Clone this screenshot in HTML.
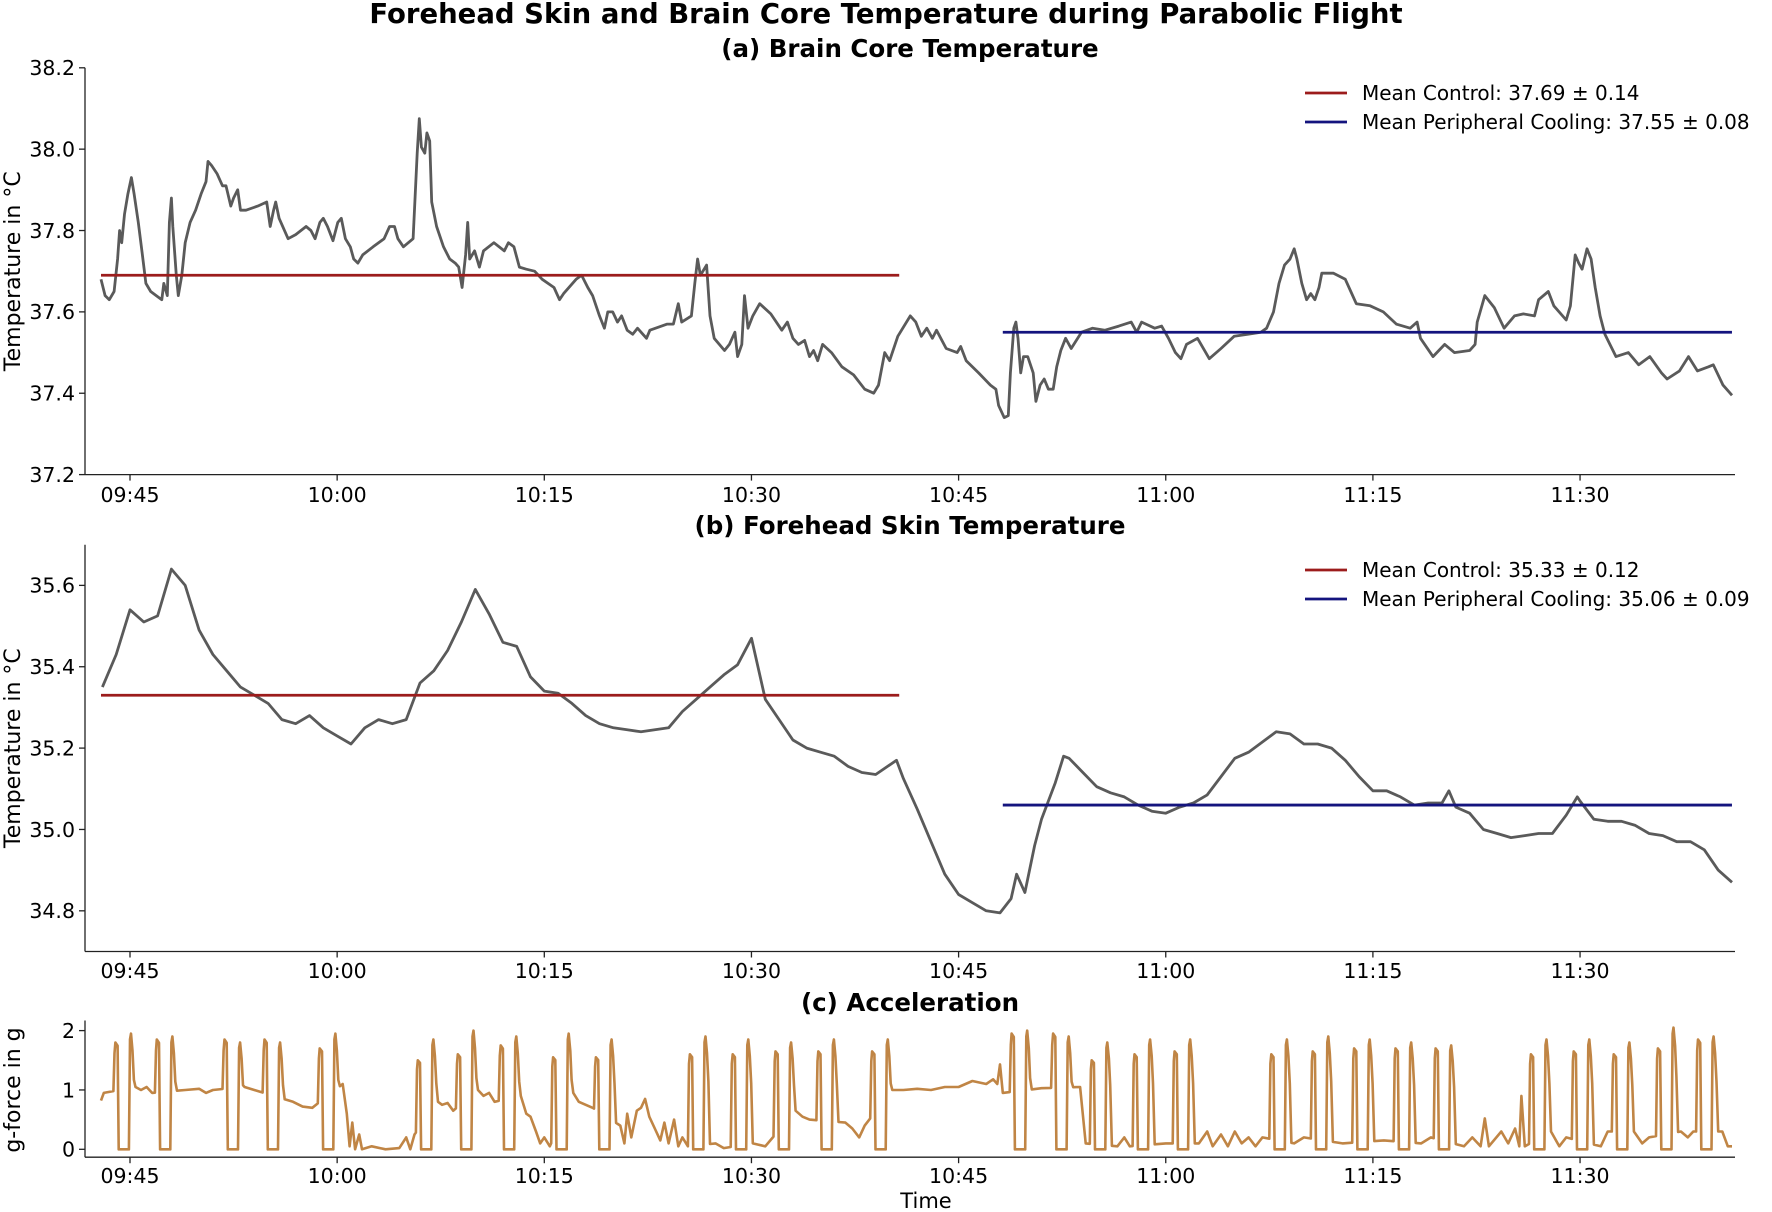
<!DOCTYPE html>
<html><head><meta charset="utf-8">
<style>
html,body{margin:0;padding:0;background:#fff;}
svg{display:block;font-family:"DejaVu Sans","Liberation Sans",sans-serif;}
</style></head>
<body>
<svg id="fig" width="1772" height="1212" viewBox="0 0 1772 1212" xmlns="http://www.w3.org/2000/svg">
<text x="886" y="23" text-anchor="middle" font-size="27.5" font-weight="bold">Forehead Skin and Brain Core Temperature during Parabolic Flight</text>
<text x="910" y="57" text-anchor="middle" font-size="24.5" font-weight="bold">(a) Brain Core Temperature</text>
<text x="910" y="534" text-anchor="middle" font-size="24.5" font-weight="bold">(b) Forehead Skin Temperature</text>
<text x="910" y="1011" text-anchor="middle" font-size="24.5" font-weight="bold">(c) Acceleration</text>
<g id="pa"></g>
<g id="pb"></g>
<g id="pc"></g>
<text x="926" y="1208" text-anchor="middle" font-size="21">Time</text>
</svg>
<script>
// ---- shared x ticks (minutes after 09:45) ----
const xTickMin = [0, 15, 30, 45, 60, 75, 90, 105];
const xTickLabels = ["09:45","10:00","10:15","10:30","10:45","11:00","11:15","11:30"];

// ---- (a) brain core temperature ----
const brainT = [-2.1,-1.8,-1.5,-1.15,-0.9,-0.75,-0.6,-0.4,-0.15,0.1,0.3,0.6,0.9,1.15,1.5,1.9,2.3,2.45,2.7,2.85,3.0,3.1,3.35,3.5,3.75,4.0,4.35,4.75,5.15,5.5,5.65,5.9,6.3,6.7,6.95,7.3,7.5,7.8,8.0,8.4,9.25,9.9,10.15,10.4,10.55,10.8,11.45,12.0,12.75,13.1,13.4,13.75,14.0,14.3,14.7,15.05,15.3,15.6,15.95,16.2,16.5,16.85,17.6,18.4,18.8,19.15,19.4,19.8,20.5,20.8,20.95,21.1,21.35,21.5,21.7,21.85,22.2,22.7,23.15,23.55,23.8,24.05,24.3,24.45,24.6,24.95,25.3,25.6,26.35,27.1,27.4,27.8,28.2,28.7,29.3,29.85,30.7,31.1,31.4,32.3,32.7,33.15,33.5,34.0,34.35,34.6,34.95,35.3,35.6,36.0,36.4,36.75,37.4,37.65,38.9,39.35,39.7,39.95,40.65,40.9,41.1,41.3,41.75,42.0,42.3,43.05,43.4,43.8,44.0,44.3,44.5,44.75,45.1,45.6,46.4,47.2,47.6,48.0,48.4,48.85,49.2,49.5,49.8,50.15,50.8,51.55,52.4,53.2,53.85,54.2,54.65,55.0,55.6,56.5,56.9,57.3,57.7,58.1,58.4,59.1,59.9,60.15,60.55,61.45,62.3,62.7,62.9,63.3,63.6,63.75,64.0,64.15,64.3,64.5,64.7,65.0,65.4,65.6,65.9,66.2,66.5,66.85,67.1,67.4,67.75,68.15,68.9,69.7,70.6,71.6,72.5,72.9,73.25,74.2,74.7,75.2,75.7,76.1,76.5,77.3,78.15,79.0,79.95,80.95,81.9,82.3,82.8,83.2,83.6,84.0,84.3,84.5,84.85,85.2,85.5,85.8,86.1,86.3,87.15,88.0,88.4,88.8,89.8,90.75,91.7,92.7,93.2,93.45,94.35,95.2,95.9,97.0,97.4,97.55,98.1,98.8,99.5,100.25,100.9,101.7,102.0,102.7,103.1,104.0,104.3,104.5,104.65,104.9,105.15,105.5,105.8,106.1,106.45,106.8,107.6,108.5,109.25,110.05,110.9,111.3,112.2,112.85,113.5,114.3,114.65,115.35,116.0];
const brainV = [37.68,37.64,37.63,37.65,37.73,37.80,37.77,37.84,37.89,37.93,37.89,37.82,37.74,37.67,37.65,37.64,37.63,37.67,37.64,37.82,37.88,37.81,37.69,37.64,37.69,37.77,37.82,37.85,37.89,37.92,37.97,37.96,37.94,37.91,37.91,37.86,37.88,37.90,37.85,37.85,37.86,37.87,37.81,37.85,37.87,37.83,37.78,37.79,37.81,37.80,37.78,37.82,37.83,37.81,37.775,37.82,37.83,37.78,37.76,37.73,37.72,37.74,37.76,37.78,37.81,37.81,37.78,37.76,37.78,37.99,38.075,38.005,37.99,38.04,38.02,37.87,37.81,37.76,37.73,37.72,37.71,37.66,37.74,37.82,37.73,37.75,37.71,37.75,37.77,37.75,37.77,37.76,37.71,37.705,37.70,37.68,37.66,37.63,37.645,37.68,37.69,37.66,37.64,37.59,37.56,37.60,37.60,37.575,37.59,37.555,37.545,37.56,37.535,37.555,37.57,37.57,37.62,37.575,37.59,37.67,37.73,37.69,37.715,37.59,37.535,37.505,37.52,37.55,37.49,37.52,37.64,37.56,37.59,37.62,37.595,37.555,37.575,37.535,37.52,37.53,37.49,37.505,37.48,37.52,37.50,37.465,37.445,37.41,37.40,37.42,37.50,37.48,37.54,37.59,37.575,37.54,37.56,37.535,37.555,37.51,37.50,37.515,37.48,37.45,37.42,37.41,37.37,37.34,37.345,37.45,37.56,37.575,37.535,37.45,37.49,37.49,37.45,37.38,37.42,37.435,37.41,37.41,37.465,37.505,37.535,37.51,37.55,37.56,37.555,37.565,37.575,37.55,37.575,37.56,37.565,37.535,37.50,37.485,37.52,37.535,37.485,37.51,37.54,37.545,37.55,37.56,37.60,37.67,37.715,37.73,37.755,37.73,37.67,37.63,37.645,37.63,37.66,37.695,37.695,37.68,37.65,37.62,37.615,37.60,37.57,37.56,37.575,37.535,37.49,37.52,37.50,37.505,37.52,37.575,37.64,37.61,37.56,37.59,37.595,37.59,37.63,37.65,37.615,37.58,37.615,37.685,37.74,37.72,37.705,37.755,37.73,37.66,37.59,37.545,37.49,37.50,37.47,37.49,37.45,37.435,37.455,37.49,37.455,37.465,37.47,37.42,37.395];
const brainTicks = [37.2,37.4,37.6,37.8,38.0,38.2];
const brainMeans = [37.69, 37.55];
const brainMeanLabels = ["Mean Control: 37.69 ± 0.14","Mean Peripheral Cooling: 37.55 ± 0.08"];

// ---- (b) forehead skin temperature ----
const skinT = [-2,-1,0,1,2,3,4,5,6,7,8,9,10,11,12,13,14,15,16,17,18,19,20,21,22,23,24,25,26,27,28,29,30,31,32,33,34,35,36,37,38,39,40,41,42,43,44,45,46,47,48,49,50,51,52,53,54,55.5,56,57,58,59,60,61,62,63,63.8,64.2,64.8,65.5,66,67,67.6,68,69,70,71,72,73,74,75,76,77,78,79,80,81,82,83,84,85,86,87,88,89,90,91,92,93,94,95,95.5,96,97,98,99,100,101,102,103,104,104.8,105,106,107,108,109,110,111,112,113,114,115,116];
const skinV = [35.35,35.43,35.54,35.51,35.525,35.64,35.60,35.49,35.43,35.39,35.35,35.33,35.31,35.27,35.26,35.28,35.25,35.23,35.21,35.25,35.27,35.26,35.27,35.36,35.39,35.44,35.51,35.59,35.53,35.46,35.45,35.375,35.34,35.335,35.31,35.28,35.26,35.25,35.245,35.24,35.245,35.25,35.29,35.32,35.35,35.38,35.405,35.47,35.32,35.27,35.22,35.20,35.19,35.18,35.155,35.14,35.135,35.17,35.125,35.05,34.97,34.89,34.84,34.82,34.80,34.795,34.83,34.89,34.845,34.96,35.025,35.115,35.18,35.175,35.14,35.105,35.09,35.08,35.06,35.045,35.04,35.055,35.065,35.085,35.13,35.175,35.19,35.215,35.24,35.235,35.21,35.21,35.20,35.17,35.13,35.095,35.095,35.08,35.06,35.065,35.065,35.095,35.055,35.04,35.0,34.99,34.98,34.985,34.99,34.99,35.035,35.08,35.07,35.025,35.02,35.02,35.01,34.99,34.985,34.97,34.97,34.95,34.90,34.87];
const skinTicks = [34.8,35.0,35.2,35.4,35.6];
const skinMeans = [35.33, 35.06];
const skinMeanLabels = ["Mean Control: 35.33 ± 0.12","Mean Peripheral Cooling: 35.06 ± 0.09"];

// mean line extents (minutes)
const controlSpan = [-2.1, 55.7];
const coolingSpan = [63.2, 116.0];

// ---- (c) acceleration ----
const paraT = [-0.4,2.6,7.5,10.4,14.4,21.5,24.4,27.5,31.3,34.4,41.2,44.3,47.4,50.5,54.4,64.5,67.5,70.3,73.4,76.3,83.3,86.3,89.3,92.3,95.2,102.1,105.2,108.1,111.3,114.2];
const paraPeakIn = [1.8,1.85,1.85,1.85,1.7,1.5,1.6,1.75,1.55,1.55,1.6,1.6,1.65,1.65,1.65,1.95,1.95,1.5,1.6,1.65,1.6,1.65,1.7,1.7,1.7,1.6,1.65,1.6,1.7,1.85];
const paraPeakOut = [1.95,1.9,1.8,1.8,1.95,1.85,2.0,1.9,1.95,1.85,1.9,1.85,1.8,1.85,1.85,2.0,1.9,1.8,1.85,1.85,1.85,1.9,1.85,1.8,1.75,1.85,1.85,1.8,2.05,1.9];
const baseT = [-2.1,-1.9,-1.2,-1.0,0.4,0.8,1.2,1.6,2.0,3.4,4,5,5.5,6,6.8,8.3,9,9.7,11.2,11.8,12.5,13.2,13.7,15.1,15.4,15.7,15.9,16.1,16.3,16.6,16.8,17.5,18.5,19.5,20,20.3,20.6,20.8,22.3,22.6,23,23.4,23.7,25.2,25.6,26,26.4,26.8,28.3,28.7,29,29.4,29.7,30,30.4,30.7,32.1,32.5,33,33.5,33.8,35.1,35.5,35.8,36,36.3,36.7,37,37.3,37.6,38,38.4,38.7,39,39.4,39.7,40,40.4,40.6,42,42.4,43,43.6,45.1,46,46.8,48.2,48.7,49.2,49.8,51.3,51.8,52.3,52.8,53.2,53.6,55.2,56,57,58,59,60,61,62,62.5,62.8,63.0,63.2,63.8,65.3,66,66.8,68.3,68.8,69.2,69.6,71.1,71.5,72,72.4,72.8,74.2,75,75.7,77.1,77.4,78,78.4,79,79.5,80,80.5,81,81.5,82,82.6,84,84.3,85,85.6,87.1,87.8,88.5,88.8,90,90.8,91.5,91.8,93,93.5,94.2,94.6,96,96.6,97.2,97.8,98.1,98.4,99.3,99.8,100.3,100.6,100.75,101.0,101.4,102.9,103.5,104,104.5,106,106.5,107,107.4,108.9,109.5,110,110.6,112,112.3,112.8,113.2,113.6,115,115.3,115.7,116];
const baseV = [0.82,0.95,0.97,0.95,1.05,1.0,1.05,0.95,1.02,1.05,1.0,1.02,0.95,1.0,1.0,1.05,1.0,1.0,0.85,0.8,0.72,0.7,0.68,1.2,1.1,0.6,0.05,0.45,0.0,0.25,0.0,0.05,0.0,0.02,0.2,0.0,0.25,0.0,0.8,0.75,0.78,0.65,0.45,1.0,0.9,0.95,0.8,0.78,0.9,0.6,0.55,0.3,0.1,0.2,0.05,0.45,0.95,0.8,0.75,0.7,0.45,0.9,0.4,0.1,0.6,0.2,0.65,0.7,0.85,0.55,0.35,0.15,0.45,0.1,0.5,0.05,0.2,0.05,0.3,0.5,0.1,0.02,0.05,0.1,0.05,0.05,0.65,0.55,0.5,0.45,0.6,0.45,0.35,0.2,0.4,0.1,1.0,1.0,1.02,1.0,1.05,1.05,1.15,1.1,1.18,1.1,1.43,0.95,1.05,1.05,1.03,1.0,1.1,1.05,0.1,0.02,0.25,0.05,0.2,0.05,0.08,0.15,0.1,0.1,0.45,0.1,0.3,0.05,0.25,0.05,0.3,0.1,0.2,0.05,0.2,0.05,0.35,0.1,0.2,0.05,0.2,0.1,0.45,0.05,0.2,0.15,0.05,0.1,0.3,0.1,0.2,0.05,0.1,0.05,0.2,0.05,0.52,0.05,0.3,0.1,0.35,0.05,0.9,0.05,0.35,0.3,0.05,0.2,0.05,0.1,0.05,0.3,0.05,0.3,0.1,0.2,0.1,1.5,0.3,0.2,0.3,0.05,1.0,0.3,0.05,0.05];
const accTicks = [0,1,2];

// ---- layout ----
const NS = "http://www.w3.org/2000/svg";
const X0 = 85, X1 = 1735;
const TICK_FS = 20.5;
function xScale(m){ return 130 + m * 13.81; }
function mk(tag, attrs, parent){ const e = document.createElementNS(NS, tag); for (const k in attrs) e.setAttribute(k, attrs[k]); parent.appendChild(e); return e; }

function axes(g, top, bottom, yScale, ticks, fmt, tickLabelY, prefix){
  const ys = mk("line", {x1:X0, y1:top, x2:X0, y2:bottom, stroke:"#222", "stroke-width":1.3}, g);
  
  
  const xs = mk("line", {x1:X0, y1:bottom, x2:X1, y2:bottom, stroke:"#222", "stroke-width":1.3}, g);
  
  
  ticks.forEach(v => {
    const y = yScale(v);
    mk("line", {x1:X0-6, y1:y, x2:X0, y2:y, stroke:"#222", "stroke-width":1.3}, g);
    const t = mk("text", {x:X0-10, y:y+7.3, "text-anchor":"end", "font-size":TICK_FS}, g);
    t.textContent = fmt(v);
    
    
  });
  xTickMin.forEach((m, i) => {
    const x = xScale(m);
    mk("line", {x1:x, y1:bottom, x2:x, y2:bottom+6, stroke:"#222", "stroke-width":1.3}, g);
    const t = mk("text", {x:x, y:tickLabelY, "text-anchor":"middle", "font-size":TICK_FS}, g);
    t.textContent = xTickLabels[i];
    
    
  });
}
function linePath(ts, vs, yScale){
  return ts.map((t,i)=> (i?"L":"M") + xScale(t).toFixed(1) + " " + yScale(vs[i]).toFixed(1)).join(" ");
}
function ylabel(g, text, cy, name){
  const t = mk("text", {x:0, y:0, "text-anchor":"middle", "font-size":22, transform:`translate(20 ${cy}) rotate(-90)`}, g);
  t.textContent = text;
  
  
}
function tempPanel(g, top, bottom, lo, hi, ticks, T, V, means, labels, tickY, prefix, legY){
  const yScale = v => bottom - (v - lo) / (hi - lo) * (bottom - top);
  axes(g, top, bottom, yScale, ticks, v => v.toFixed(1), tickY, prefix);
  ylabel(g, "Temperature in °C", (top+bottom)/2, prefix + '-y-axis-title');
  const p = mk("path", {d: linePath(T, V, yScale), fill:"none", stroke:"#5a5a5a", "stroke-width":2.8, "stroke-linejoin":"round"}, g);
  
  
  const cols = ["#9c1c1c", "#14147e"];
  const spans = [controlSpan, coolingSpan];
  means.forEach((m, i) => {
    const l = mk("line", {x1:xScale(spans[i][0]), x2:xScale(spans[i][1]), y1:yScale(m), y2:yScale(m), stroke:cols[i], "stroke-width":2.8}, g);
    
    
    const ly = legY + i*29;
    const ll = mk("line", {x1:1305, x2:1347, y1:ly, y2:ly, stroke:cols[i], "stroke-width":2.8}, g);
    
    
    const t = mk("text", {x:1362, y:ly+7, "font-size":20}, g);
    t.textContent = labels[i];
    
    
  });
}
tempPanel(document.getElementById("pa"), 67.8, 474.6, 37.2, 38.2, brainTicks, brainT, brainV, brainMeans, brainMeanLabels, 502, "panel-a", 93);
tempPanel(document.getElementById("pb"), 544.7, 951.5, 34.7, 35.7, skinTicks, skinT, skinV, skinMeans, skinMeanLabels, 978, "panel-b", 570);

// acceleration panel
(function(){
  const g = document.getElementById("pc");
  const top = 1020.5, bottom = 1157.2;
  const yScale = v => 1149.3 - v * 59.35;
  axes(g, top, bottom, yScale, accTicks, v => String(v), 1183, "panel-c");
  ylabel(g, "g-force in g", 1090, "panel-c-y-axis-title");
  const W = 0.8; // half-width of a parabola manoeuvre window (min)
  const bt = [], bv = [];
  baseT.forEach((t,i) => {
    if (!paraT.some(tc => Math.abs(t - tc) < W)) { bt.push(t); bv.push(baseV[i]); }
  });
  function baseAt(t){
    if (t <= bt[0]) return bv[0];
    for (let i = 1; i < bt.length; i++) {
      if (t <= bt[i]) { const f = (t - bt[i-1]) / (bt[i] - bt[i-1]); return bv[i-1] + f * (bv[i] - bv[i-1]); }
    }
    return bv[bv.length-1];
  }
  const pts = bt.map((t,i) => [t, bv[i]]);
  paraT.forEach((tc,i) => {
    const a = paraPeakIn[i], b = paraPeakOut[i];
    pts.push([tc-W, baseAt(tc-W)],[tc-0.72, a*0.9],[tc-0.66, a],[tc-0.5, a*0.97],[tc-0.42, 0],[tc+0.32, 0],[tc+0.4, b*0.95],[tc+0.47, b],[tc+0.58, b*0.85],[tc+0.68, b*0.6],[tc+W, baseAt(tc+W)]);
  });
  pts.sort((p,q)=>p[0]-q[0]);
  const d = pts.map((p,i)=>(i?"L":"M")+xScale(p[0]).toFixed(1)+" "+yScale(p[1]).toFixed(1)).join(" ");
  const path = mk("path", {d:d, fill:"none", stroke:"#c08545", "stroke-width":2.6, "stroke-linejoin":"round"}, g);
  
  
})();
</script>
</body></html>
